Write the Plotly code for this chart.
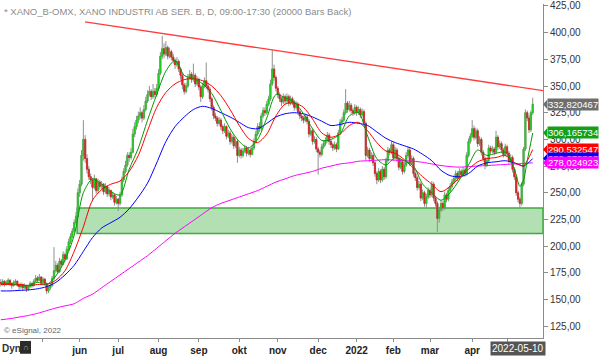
import pandas as pd
import plotly.graph_objects as go

# ---------------- data ----------------
holidays = ['2021-04-02', '2021-04-05', '2021-05-13', '2021-06-25', '2021-12-24',
            '2021-12-31', '2022-01-06', '2022-04-15', '2022-04-18']
dates = [d.strftime('%Y-%m-%d') for d in pd.bdate_range('2021-03-29', '2022-05-20')
         if d.strftime('%Y-%m-%d') not in holidays]

opens = [166,165,167,164,166,168,165,163,166,167,
         164,162,164,161,163,160,162,165,163,167,
         170,168,171,166,169,165,158,161,163,170,
         177,182,176,186,183,192,188,197,204,209,
         214,222,228,250,258,285,300,282,272,265,
         262,255,263,252,260,256,258,251,256,249,
         252,246,248,241,244,240,248,262,270,276,
         285,283,288,305,312,318,322,325,320,328,
         336,342,345,340,345,342,348,362,378,385,
         380,386,378,382,377,374,370,373,366,360,
         351,345,350,358,361,356,360,352,356,349,
         340,350,355,350,347,338,330,322,320,315,
         318,312,308,312,303,306,298,302,294,298,
         285,290,285,289,292,287,290,286,292,298,
         305,312,310,322,327,325,333,338,352,366,
         358,348,342,338,335,340,336,340,334,338,
         335,330,333,326,322,320,318,321,317,305,
         308,298,300,291,288,286,293,296,299,304,
         298,295,292,295,291,306,316,318,325,334,
         328,332,327,325,330,325,328,323,326,315,
         285,290,282,285,278,268,262,270,262,272,
         265,280,290,288,295,283,290,282,274,279,
         270,276,285,290,278,282,268,264,255,258,
         245,250,240,246,252,248,258,245,240,226,
         234,240,236,248,244,252,256,260,263,268,
         264,270,267,271,268,285,298,303,310,302,
         308,296,300,288,282,276,280,292,289,291,
         288,302,293,296,290,286,293,287,280,283,
         272,265,250,244,240,258,291,325,320,309,
         325]
highs = [169,169,168,168,170,169,166,168,169,168,
         165,166,165,165,164,164,167,166,169,173,
         172,174,172,171,170,166,163,165,172,199,
         186,184,189,188,195,194,200,207,212,217,
         225,232,254,262,290,318,304,286,275,268,
         264,267,264,263,262,261,259,259,257,255,
         253,251,249,247,245,251,265,273,280,288,
         288,292,310,316,322,326,330,327,332,340,
         346,350,347,352,348,352,366,382,397,390,
         392,388,386,384,380,376,377,375,368,362,
         353,353,361,365,363,371,362,359,358,351,
         353,358,372,353,349,340,332,325,322,321,
         320,314,315,313,309,308,305,304,301,300,
         293,292,292,295,294,293,292,295,301,308,
         315,316,325,330,330,336,341,356,384,370,
         360,350,344,340,343,342,343,342,341,340,
         337,336,335,328,324,322,324,323,319,311,
         310,303,302,293,290,296,299,302,307,306,
         300,297,298,297,309,319,321,328,347,336,
         336,334,329,333,332,331,330,329,328,317,
         293,292,288,287,280,270,273,272,275,274,
         283,293,292,298,297,293,292,284,282,281,
         279,288,293,292,285,284,270,266,261,260,
         253,252,249,255,254,261,260,247,242,237,
         243,242,251,250,255,259,263,266,271,270,
         273,272,274,273,288,301,306,318,313,311,
         310,303,302,290,284,283,295,294,294,293,
         308,304,299,298,292,296,295,289,286,285,
         274,267,252,246,260,293,328,327,323,327,
         339]
lows = [162,163,162,163,164,163,160,162,164,162,
        159,160,158,160,157,158,161,161,162,166,
        166,167,164,165,163,155,156,159,162,168,
        175,174,175,180,182,185,187,195,202,207,
        212,220,226,246,256,280,278,268,262,258,
        242,253,249,250,253,253,248,249,246,247,
        243,244,238,239,233,238,246,260,268,274,
        279,281,287,302,309,315,319,316,318,326,
        334,340,337,338,339,340,346,360,375,376,
        378,375,376,374,371,366,368,363,356,347,
        342,343,348,356,353,354,349,350,346,335,
        338,348,347,344,335,327,319,317,312,313,
        309,305,306,300,301,295,296,291,292,278,
        283,282,283,287,284,285,283,285,290,296,
        303,307,308,320,322,323,331,336,350,355,
        345,339,335,331,333,333,334,331,332,332,
        327,328,323,319,317,315,316,314,302,303,
        295,296,288,267,283,284,291,294,297,295,
        292,289,290,288,290,304,313,316,323,325,
        326,324,322,323,322,323,320,321,313,280,
        283,279,280,275,265,258,260,259,260,262,
        263,278,285,286,280,281,279,271,272,267,
        268,274,283,275,276,265,261,252,253,242,
        243,237,236,244,245,246,242,237,213,222,
        232,233,234,241,242,250,254,258,261,261,
        262,264,265,265,266,283,296,301,299,300,
        293,294,285,279,272,274,278,286,287,285,
        286,290,291,287,283,284,284,277,278,269,
        262,247,241,236,238,256,289,317,306,307,
        323]
closes = [165,167,164,166,168,165,163,166,167,164,
          162,164,161,163,160,162,165,163,167,170,
          168,171,166,169,165,158,161,163,170,177,
          182,176,186,183,192,188,197,204,209,214,
          222,228,250,258,285,300,282,272,265,262,
          255,263,252,260,256,258,251,256,249,252,
          246,248,241,244,240,248,262,270,276,285,
          283,288,305,312,318,322,325,320,328,336,
          342,345,340,345,342,348,362,378,385,380,
          386,378,382,377,374,370,373,366,360,351,
          345,350,358,361,356,360,352,356,349,340,
          350,355,350,347,338,330,322,320,315,318,
          312,308,312,303,306,298,302,294,298,285,
          290,285,289,292,287,290,286,292,298,305,
          312,310,322,327,325,333,338,352,366,358,
          348,342,338,335,340,336,340,334,338,335,
          330,333,326,322,320,318,321,317,305,308,
          298,300,291,288,286,293,296,299,304,298,
          295,292,295,291,306,316,318,325,334,328,
          332,327,325,330,325,328,323,326,315,285,
          290,282,285,278,268,262,270,262,272,265,
          280,290,288,295,283,290,282,274,279,270,
          276,285,290,278,282,268,264,255,258,245,
          250,240,246,252,248,258,245,240,226,234,
          240,236,248,244,252,256,260,263,268,264,
          270,267,271,268,285,298,303,310,302,308,
          296,300,288,282,276,280,292,289,291,288,
          302,293,296,290,286,293,287,280,283,272,
          265,250,244,240,258,291,325,320,309,325,
          333]

# moving averages at these bar numbers
ma_idx = list(range(0, 281, 5)) + [283, 285, 287, 290]
ma_green = [165,165,163,163,166,164,172,187,210,250,
            263,258,251,248,272,292,318,342,364,374,
            360,357,352,343,327,310,298,292,300,320,
            342,339,335,324,310,299,300,305,322,325,
            303,282,276,283,280,275,258,250,243,250,
            262,276,290,285,287,288,272,256,262,280,306]
ma_red = [164,164,164,163,164,164,168,177,195,218,
          243,253,258,261,270,285,308,330,344,352,
          356,357,355,350,341,328,313,301,297,305,
          322,333,334,330,319,306,302,305,313,316,
          308,297,289,287,281,273,265,258,251,256,
          264,272,279,282,283,285,278,276,275,280,290.5]
ma_blue = [158,158,158.5,159,160,162,166,173,182,195,
           208,217,222,227,235,246,259,278,298,312,
           321,328,331,329,325,321,316,311,310,315,
           321,324,325,324,321,317,313,314,316,315,
           313,307,301,297,294,291,286,280,271,266,
           265,268,275,278,279,280,278,276,275,277,282]
ma_magenta = [131,132,133.5,135,137,139.5,142,144,146,151,
              155,161,167,173,179,185,191,198,205,212,
              218,224,230,236,240,243,246,249,252,256,
              260,263,266,268,270,273,275,277,278,279.5,
              280,280.5,281,280.5,280,279.5,278.5,277,275.5,274.5,
              274,274.5,275,275.5,276,276.5,277,277.3,277.5,277.8,278]

last_values = [332.820467, 306.165734, 290.532547, 282.078823, 278.024923]
last_texts = ['332,820467', '306,165734', '290,532547', '282,078823', '278,024923']

zone_low, zone_high = 211.8, 235.8
zone_start = 41.6
trend_x = [45.9, 295.6]
trend_y = [410.2, 345.6]

tick_dates = ['2021-05-03', '2021-06-01', '2021-07-01', '2021-08-02', '2021-09-01',
              '2021-10-01', '2021-11-01', '2021-12-01', '2022-01-03', '2022-02-01',
              '2022-03-01', '2022-04-01', '2022-05-02']
tick_labels = ['', 'jun', 'jul', 'aug', 'sep', 'okt', 'nov', 'dec', '2022',
               'feb', 'mar', 'apr', '']
y_ticks = [125, 150, 175, 200, 225, 250, 275, 300, 325, 350, 375, 400, 425]
cursor_date = '2022-05-10'

# ---------------- figure ----------------
X_RANGE = [-0.44, 295.6]
Y_RANGE = [113.9, 426.85]
FONT = 'Arial, Liberation Sans, sans-serif'

# body extents of each candle (for the coloured bodies drawn over the grey wicks)
body_top = [max(o, c) for o, c in zip(opens, closes)]
body_bot = [min(o, c) for o, c in zip(opens, closes)]

fig = go.Figure()
fig.add_trace(go.Candlestick(
    x=dates, open=opens, high=highs, low=lows, close=closes,
    increasing=dict(line=dict(color='#8f8f8f', width=1), fillcolor='#8f8f8f'),
    decreasing=dict(line=dict(color='#8f8f8f', width=1), fillcolor='#8f8f8f'),
    whiskerwidth=0, showlegend=False, hoverinfo='skip'))
fig.add_trace(go.Candlestick(
    x=dates, open=opens, high=body_top, low=body_bot, close=closes,
    increasing=dict(line=dict(color='#22c422', width=0.6), fillcolor='#22d022'),
    decreasing=dict(line=dict(color='#d82020', width=0.6), fillcolor='#e02424'),
    whiskerwidth=0, showlegend=False, hoverinfo='skip'))

ma_x = [dates[i] for i in ma_idx]
for vals, col in [(ma_magenta, '#ff00ff'), (ma_blue, '#0000ff'),
                  (ma_red, '#ff0000'), (ma_green, '#009a00')]:
    fig.add_trace(go.Scatter(x=ma_x, y=vals, mode='lines',
                             line=dict(color=col, width=1, shape='spline', smoothing=0.8),
                             showlegend=False, hoverinfo='skip'))

shapes = [
    dict(type='rect', xref='x', yref='y', x0=zone_start, x1=X_RANGE[1],
         y0=zone_low, y1=zone_high, fillcolor='#b3e0b3',
         line=dict(color='#3faa3f', width=1.5), layer='below'),
    dict(type='line', xref='x', yref='y', x0=trend_x[0], x1=trend_x[1],
         y0=trend_y[0], y1=trend_y[1], line=dict(color='#ff3c3c', width=1.3)),
    dict(type='rect', xref='paper', yref='paper', x0=20/543, x1=31/543,
         y0=-16/339, y1=-3/339, fillcolor='#2b2b2b', line=dict(width=0)),
]

label_colors = ['#6e6e6e', '#14a014', '#ff0000', '#0000ff', '#ff00ff']
annotations = []
for v, t, c in zip(last_values, last_texts, label_colors):
    # small pointer on the left of each value box
    shapes.append(dict(type='path', xref='paper', yref='y',
                       path=f'M 1.0,{v} L 1.0075,{v + 4.3} L 1.0075,{v - 4.3} Z',
                       fillcolor=c, line=dict(width=0)))
    annotations.append(dict(x=1, xref='paper', y=v, yref='y', xanchor='left',
                            yanchor='middle', xshift=4, text=t, showarrow=False,
                            bgcolor=c, borderpad=0,
                            font=dict(family=FONT, size=9.5, color='white')))

annotations += [
    dict(x=0.004, xref='paper', y=1, yref='paper', xanchor='left', yanchor='top',
         text='* XANO_B-OMX, XANO INDUSTRI AB SER. B, D, 09:00-17:30 (20000 Bars Back)',
         showarrow=False, font=dict(family=FONT, size=9.5, color='#8c8c8c')),
    dict(x=0.004, xref='paper', y=8/339, yref='paper', xanchor='left', yanchor='middle',
         text='© eSignal, 2022', showarrow=False,
         font=dict(family=FONT, size=8, color='#666666')),
    dict(x=0, xref='paper', y=0, yref='paper', xanchor='left', yanchor='top', yshift=-3,
         text='<b>Dyn</b>', showarrow=False, font=dict(family=FONT, size=10, color='#333333')),
    dict(x=25.5/543, xref='paper', y=-9.5/339, yref='paper', xanchor='center', yanchor='middle',
         text='∩', showarrow=False, font=dict(family=FONT, size=8, color='#aaaaaa')),
    dict(x=cursor_date, xref='x', y=0, yref='paper', xanchor='center', yanchor='top', yshift=-3,
         text=cursor_date, showarrow=False, bgcolor='#555555', borderpad=1,
         font=dict(family=FONT, size=10, color='white')),
]

fig.update_layout(
    width=600, height=356, margin=dict(l=0, r=57, t=0, b=17),
    paper_bgcolor='white', plot_bgcolor='white',
    separators=', ', showlegend=False, boxgap=0.1,
    shapes=shapes, annotations=annotations,
    xaxis=dict(type='category', range=X_RANGE, rangeslider=dict(visible=False),
               showgrid=False, zeroline=False, showline=True, linecolor='#8c8c8c',
               ticks='outside', ticklen=3, tickcolor='#8c8c8c',
               tickvals=tick_dates, ticktext=tick_labels,
               tickfont=dict(family=FONT, size=10, color='#222222', weight='bold')),
    yaxis=dict(side='right', range=Y_RANGE, showgrid=False, zeroline=False,
               showline=True, linecolor='#8c8c8c', ticks='outside', ticklen=4,
               tickcolor='#8c8c8c', tickvals=y_ticks, tickformat='.2f',
               ticklabeloverflow='allow',
               tickfont=dict(family=FONT, size=10, color='#333333')),
)

fig.write_html('out.html', config={'displayModeBar': False},
               post_script="document.body.style.margin='0';document.body.style.overflow='hidden';")
